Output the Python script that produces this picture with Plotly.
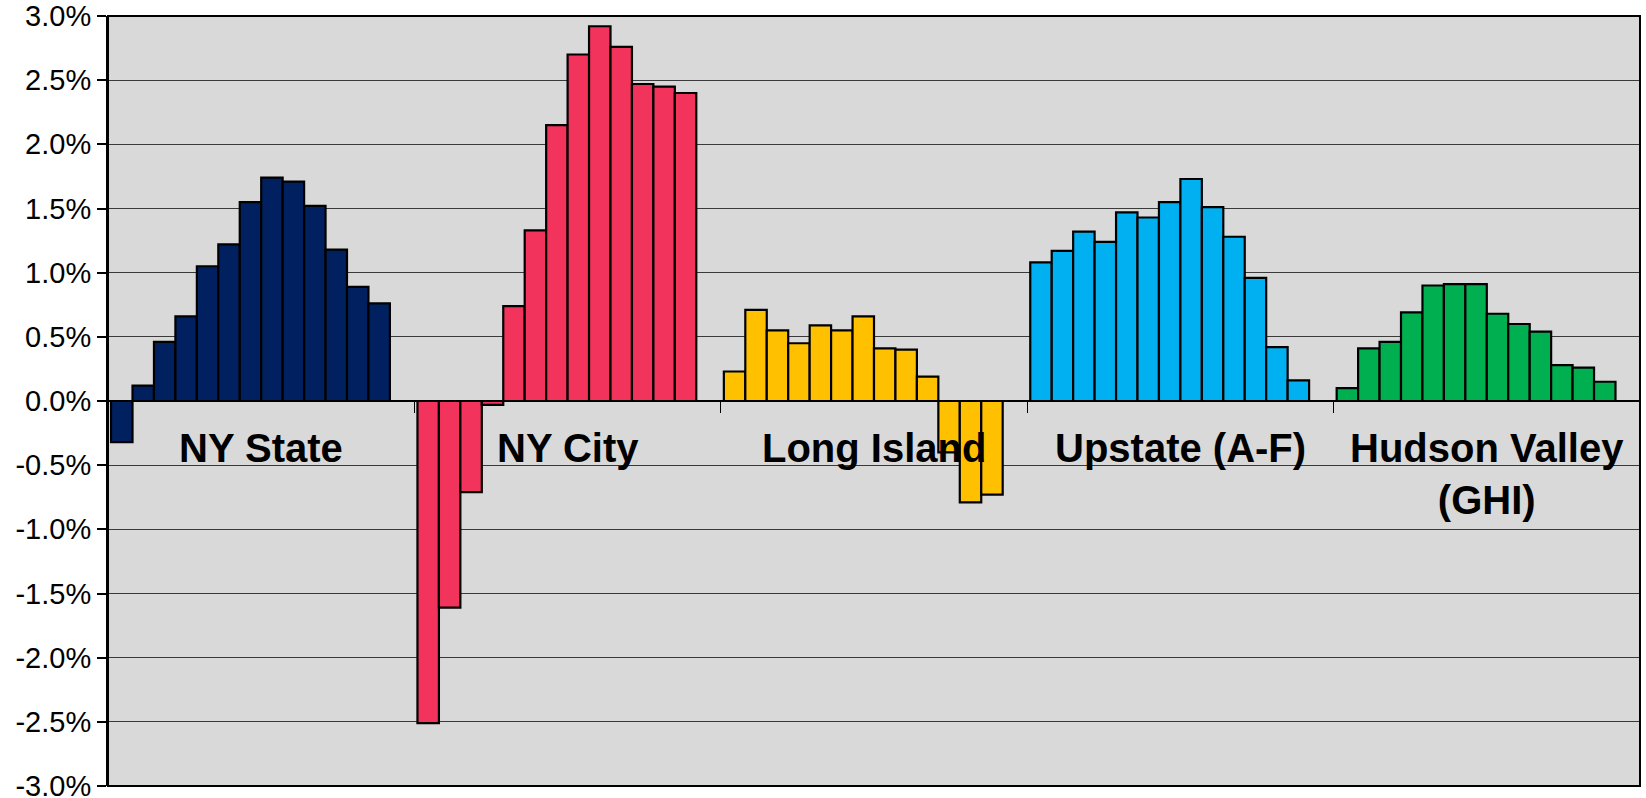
import plotly.graph_objects as go

# Region categories and their bar colours
categories = ["NY State", "NY City", "Long Island", "Upstate (A-F)", "Hudson Valley (GHI)"]
category_labels = ["NY State", "NY City", "Long Island", "Upstate (A-F)", "Hudson Valley<br>(GHI)"]
region_colors = ["#002060", "#F2335B", "#FFC000", "#00B0F0", "#00B050"]

# Values (%) for 13 consecutive periods per region; a 14th period slot is empty
ny_state = [-0.32, 0.12, 0.46, 0.66, 1.05, 1.22, 1.55, 1.74, 1.71, 1.52, 1.18, 0.89, 0.76]
ny_city = [-2.51, -1.61, -0.71, -0.03, 0.74, 1.33, 2.15, 2.70, 2.92, 2.76, 2.47, 2.45, 2.40]
long_island = [0.23, 0.71, 0.55, 0.45, 0.59, 0.55, 0.66, 0.41, 0.40, 0.19, -0.40, -0.79, -0.73]
upstate = [1.08, 1.17, 1.32, 1.24, 1.47, 1.43, 1.55, 1.73, 1.51, 1.28, 0.96, 0.42, 0.16]
hudson_valley = [0.10, 0.41, 0.46, 0.69, 0.90, 0.91, 0.91, 0.68, 0.60, 0.54, 0.28, 0.26, 0.15]

n_periods = 14  # last period has no data
series = [ny_state, ny_city, long_island, upstate, hudson_valley]

y_ticks = [-3.0, -2.5, -2.0, -1.5, -1.0, -0.5, 0.0, 0.5, 1.0, 1.5, 2.0, 2.5, 3.0]
y_tick_labels = [f"{v:.1f}%" for v in y_ticks]

FONT = "Arial, Liberation Sans, sans-serif"

fig = go.Figure()
for i in range(n_periods):
    ys = [s[i] if i < len(s) else None for s in series]
    fig.add_trace(go.Bar(
        x=categories,
        y=ys,
        name=f"Period {i + 1}",
        marker=dict(color=region_colors, line=dict(color="black", width=2.2)),
        showlegend=False,
    ))

for cat, lab in zip(categories, category_labels):
    fig.add_annotation(
        x=cat, y=0, xref="x", yref="y",
        text=f"<b>{lab}</b>", showarrow=False,
        yanchor="top", xanchor="center", yshift=-23,
        font=dict(family=FONT, size=40, color="black"),
    )

fig.add_shape(type="rect", xref="paper", yref="paper", x0=0, x1=1, y0=0, y1=1,
              line=dict(color="black", width=2), layer="above")

fig.update_layout(
    width=1646, height=798,
    margin=dict(l=108, r=6, t=16, b=12, autoexpand=False),
    paper_bgcolor="white",
    plot_bgcolor="#D9D9D9",
    barmode="group",
    bargap=0.02,
    bargroupgap=0,
    font=dict(family=FONT, color="black", size=29),
    xaxis=dict(
        type="category",
        categoryorder="array",
        categoryarray=categories,
        range=[-0.5, 4.5],
        anchor="free",
        position=0.5,
        showline=True, linecolor="black", linewidth=1.5,
        ticks="outside", tickson="boundaries", ticklen=11, tickcolor="black", tickwidth=1,
        showticklabels=False,
        showgrid=False,
        zeroline=False,
    ),
    yaxis=dict(
        range=[-3, 3],
        tickmode="array",
        tickvals=y_ticks,
        ticktext=y_tick_labels,
        tickfont=dict(family=FONT, size=29, color="black"),
        ticklabeloverflow="allow",
        ticks="outside", ticklen=9, tickcolor="black", tickwidth=1.5,
        showline=True, linecolor="black", linewidth=2,
        showgrid=True, gridcolor="#3a3a3a", gridwidth=1,
        zeroline=False,
        automargin=False,
    ),
)

# remove the browser's default page margin so the 1646x798 figure fills the window
fig.write_html("out.html", config={"displayModeBar": False},
               post_script="document.body.style.margin='0';")
